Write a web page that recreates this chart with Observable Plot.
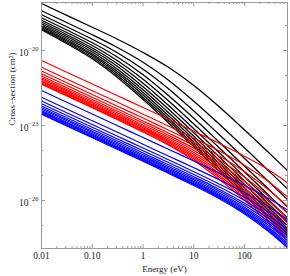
<!DOCTYPE html>
<html><head><meta charset="utf-8">
<script src="https://cdn.jsdelivr.net/npm/d3@7"></script>
<script src="https://cdn.jsdelivr.net/npm/@observablehq/plot@0.6"></script>
<style>body{margin:0;background:#fff}#chart{width:290px;height:276px}</style>
</head><body><div id="chart"></div>
<script>
// Energy grid (eV)
const energies = [0.01, 0.1, 0.3, 1, 3, 10, 30, 100, 300, 700];
// log10 of cross-section (cm^2) per curve
const blackLogSigma = [
  [-18.12,-19.07,-19.53,-20.08,-20.64,-21.40,-22.21,-23.18,-24.09,-24.80],
  [-18.41,-19.37,-19.86,-20.47,-21.15,-22.03,-22.90,-23.90,-24.82,-25.53],
  [-18.57,-19.55,-20.07,-20.75,-21.49,-22.42,-23.32,-24.32,-25.25,-25.96],
  [-18.69,-19.69,-20.24,-20.97,-21.76,-22.71,-23.62,-24.63,-25.55,-26.26],
  [-18.79,-19.80,-20.38,-21.15,-21.97,-22.94,-23.85,-24.86,-25.79,-26.50],
  [-18.86,-19.90,-20.50,-21.31,-22.15,-23.13,-24.04,-25.06,-25.98,-26.69],
  [-18.93,-19.98,-20.61,-21.45,-22.30,-23.29,-24.21,-25.22,-26.14,-26.86],
  [-18.99,-20.06,-20.72,-21.57,-22.44,-23.43,-24.35,-25.36,-26.29,-27.00],
  [-19.04,-20.14,-20.81,-21.68,-22.56,-23.55,-24.47,-25.49,-26.41,-27.12],
  [-19.09,-20.20,-20.89,-21.78,-22.67,-23.66,-24.58,-25.60,-26.52,-27.24],
  [-19.13,-20.27,-20.97,-21.88,-22.76,-23.76,-24.68,-25.70,-26.62,-27.34],
  [-19.17,-20.33,-21.05,-21.96,-22.85,-23.85,-24.78,-25.79,-26.71,-27.43]
];
const redLogSigma = [
  [-20.40,-21.34,-21.79,-22.28,-22.73,-23.23,-23.69,-24.23,-24.78,-25.29],
  [-20.67,-21.61,-22.05,-22.55,-23.00,-23.51,-23.99,-24.59,-25.25,-25.86],
  [-20.82,-21.76,-22.21,-22.70,-23.16,-23.68,-24.19,-24.85,-25.58,-26.23],
  [-20.93,-21.87,-22.32,-22.82,-23.28,-23.80,-24.34,-25.06,-25.84,-26.50],
  [-21.02,-21.96,-22.41,-22.90,-23.37,-23.91,-24.48,-25.24,-26.04,-26.72],
  [-21.09,-22.03,-22.48,-22.98,-23.44,-24.00,-24.59,-25.38,-26.21,-26.90],
  [-21.14,-22.09,-22.54,-23.04,-23.51,-24.08,-24.70,-25.51,-26.36,-27.05],
  [-21.20,-22.14,-22.59,-23.09,-23.57,-24.15,-24.79,-25.62,-26.49,-27.19],
  [-21.24,-22.18,-22.63,-23.14,-23.62,-24.22,-24.88,-25.72,-26.61,-27.31],
  [-21.28,-22.22,-22.68,-23.18,-23.67,-24.28,-24.96,-25.82,-26.71,-27.41],
  [-21.32,-22.26,-22.71,-23.22,-23.72,-24.34,-25.03,-25.91,-26.81,-27.51],
  [-21.35,-22.29,-22.75,-23.26,-23.76,-24.40,-25.11,-25.99,-26.90,-27.60]
];
const blueLogSigma = [
  [-21.60,-22.54,-22.99,-23.48,-23.93,-24.42,-24.88,-25.40,-25.92,-26.38],
  [-21.87,-22.81,-23.25,-23.75,-24.20,-24.69,-25.15,-25.69,-26.25,-26.76],
  [-22.02,-22.96,-23.41,-23.90,-24.35,-24.85,-25.32,-25.87,-26.46,-26.99],
  [-22.13,-23.07,-23.52,-24.01,-24.46,-24.96,-25.43,-26.00,-26.61,-27.17],
  [-22.22,-23.16,-23.60,-24.10,-24.55,-25.05,-25.53,-26.11,-26.73,-27.30],
  [-22.29,-23.23,-23.67,-24.17,-24.62,-25.12,-25.60,-26.19,-26.84,-27.42],
  [-22.34,-23.28,-23.73,-24.23,-24.68,-25.18,-25.67,-26.27,-26.93,-27.52],
  [-22.40,-23.34,-23.78,-24.28,-24.73,-25.24,-25.73,-26.33,-27.00,-27.61],
  [-22.44,-23.38,-23.83,-24.32,-24.78,-25.28,-25.78,-26.39,-27.08,-27.69],
  [-22.48,-23.42,-23.87,-24.36,-24.82,-25.33,-25.82,-26.45,-27.14,-27.76],
  [-22.52,-23.46,-23.90,-24.40,-24.85,-25.36,-25.86,-26.49,-27.20,-27.83],
  [-22.55,-23.49,-23.94,-24.43,-24.89,-25.40,-25.90,-26.54,-27.25,-27.89]
];
const xTickValues = [0.01, 0.1, 1, 10, 100];
const xTickLabels = ["0.01", "0.10", "1", "10", "100"];
const yTickExponents = [-20, -23, -26];
const yTickBase = "10";
const yTickExpLabels = ["\u221220", "\u221223", "\u221226"];
const xTitle = "Energy (eV)";
const yTitle = "Cross\u2212section (cm²)";

function toRows(curves, name) {
  const out = [];
  curves.forEach((c, i) => c.forEach((v, j) => out.push({id: name + i, E: energies[j], sigma: Math.pow(10, v)})));
  return out;
}
const blackRows = toRows(blackLogSigma, "k");
const redRows = toRows(redLogSigma, "r");
const blueRows = toRows(blueLogSigma, "b");

const xMajor = xTickValues;
const xMinor = [];
for (let d = -2; d <= 2; d++) for (let k = 2; k <= 9; k++) { const v = k * Math.pow(10, d); if (v <= 700) xMinor.push(v); }
const yMajor = yTickExponents.map(e => Math.pow(10, e));
const yMinor = [-19, -21, -22, -24, -25, -27].map(e => Math.pow(10, e));

const W = 290, H = 276, mL = 41, mR = 3, mT = 2, mB = 28;
const ph = H - mT - mB, pw = W - mL - mR;
const grey = "#9a9a9a";
const font = "Liberation Serif, Times New Roman, serif";
const ink = "#222";

const chart = Plot.plot({
  width: W, height: H,
  marginLeft: mL, marginRight: mR, marginTop: mT, marginBottom: mB,
  style: {background: "#fff", fontFamily: font},
  x: {type: "log", domain: [0.01, 700], axis: null},
  y: {type: "log", domain: [Math.pow(10, -27.92), Math.pow(10, -18.08)], axis: null},
  marks: [
    Plot.line(blackRows, {x: "E", y: "sigma", z: "id", stroke: "#000", strokeWidth: 1.3, curve: "catmull-rom", clip: true}),
    Plot.line(redRows, {x: "E", y: "sigma", z: "id", stroke: "#ff0000", strokeWidth: 1.2, curve: "catmull-rom", clip: true}),
    Plot.line(blueRows, {x: "E", y: "sigma", z: "id", stroke: "#0000ff", strokeWidth: 1.2, curve: "catmull-rom", clip: true}),
    // inside ticks, bottom/top
    Plot.tickX(xMajor, {x: d => d, stroke: grey, insetTop: ph - 4}),
    Plot.tickX(xMinor, {x: d => d, stroke: grey, insetTop: ph - 2}),
    Plot.tickX(xMajor, {x: d => d, stroke: grey, insetBottom: ph - 4}),
    Plot.tickX(xMinor, {x: d => d, stroke: grey, insetBottom: ph - 2}),
    // inside ticks, left/right
    Plot.tickY(yMajor, {y: d => d, stroke: grey, insetRight: pw - 4}),
    Plot.tickY(yMinor, {y: d => d, stroke: grey, insetRight: pw - 2}),
    Plot.tickY(yMajor, {y: d => d, stroke: grey, insetLeft: pw - 4}),
    Plot.tickY(yMinor, {y: d => d, stroke: grey, insetLeft: pw - 2}),
    Plot.frame({stroke: grey, strokeWidth: 1}),
    Plot.text(xTickValues, {x: d => d, frameAnchor: "bottom", dy: 4, lineAnchor: "top", text: (d, i) => xTickLabels[i], fontSize: 9.5, fill: ink, fontFamily: font}),
    Plot.text(yTickExponents, {y: e => Math.pow(10, e), frameAnchor: "left", dx: -13, dy: 2, textAnchor: "end", text: () => yTickBase, fontSize: 9.5, fill: ink, fontFamily: font}),
    Plot.text(yTickExponents, {y: e => Math.pow(10, e), frameAnchor: "left", dx: -3, dy: -2, textAnchor: "end", text: (d, i) => yTickExpLabels[i], fontSize: 6.5, fill: ink, fontFamily: font}),
    Plot.text([xTitle], {frameAnchor: "bottom", dy: 23, text: d => d, fontSize: 9, fill: ink, fontFamily: font}),
    Plot.text([yTitle], {frameAnchor: "left", dx: -29, rotate: -90, text: d => d, fontSize: 9, fill: ink, fontFamily: font})
  ]
});
document.getElementById("chart").appendChild(chart);
</script>
</body></html>
